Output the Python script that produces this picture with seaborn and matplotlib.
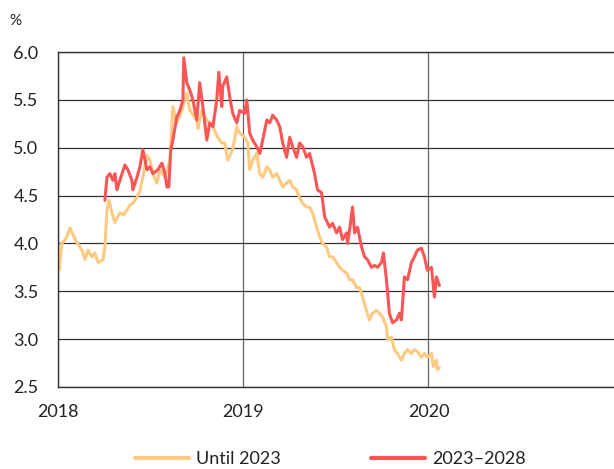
import pandas as pd
import matplotlib.pyplot as plt
import seaborn as sns

# decimal years and yields (%)
until_2023_x = [2018.000, 2018.005, 2018.020, 2018.043, 2018.065, 2018.081, 2018.102, 2018.129,
                2018.146, 2018.162, 2018.183, 2018.199, 2018.216, 2018.243, 2018.253, 2018.264,
                2018.275, 2018.291, 2018.307, 2018.323, 2018.334, 2018.356, 2018.372, 2018.388,
                2018.404, 2018.426, 2018.442, 2018.458, 2018.480, 2018.496, 2018.512, 2018.534,
                2018.550, 2018.577, 2018.604, 2018.620, 2018.641, 2018.668, 2018.695, 2018.712,
                2018.749, 2018.755, 2018.776, 2018.803, 2018.836, 2018.862, 2018.884, 2018.900,
                2018.916, 2018.943, 2018.965, 2018.981, 2019.008, 2019.024, 2019.035, 2019.051,
                2019.073, 2019.089, 2019.105, 2019.127, 2019.143, 2019.159, 2019.180, 2019.197,
                2019.213, 2019.234, 2019.251, 2019.267, 2019.288, 2019.304, 2019.321, 2019.342,
                2019.358, 2019.374, 2019.396, 2019.412, 2019.428, 2019.450, 2019.466, 2019.482,
                2019.504, 2019.520, 2019.536, 2019.558, 2019.574, 2019.590, 2019.612, 2019.628,
                2019.644, 2019.665, 2019.682, 2019.698, 2019.719, 2019.736, 2019.752, 2019.773,
                2019.779, 2019.800, 2019.816, 2019.833, 2019.854, 2019.870, 2019.887, 2019.908,
                2019.924, 2019.940, 2019.962, 2019.978, 2019.994, 2020.016, 2020.027, 2020.043,
                2020.048, 2020.059]
until_2023_y = [3.93, 3.72, 4.00, 4.05, 4.16, 4.09, 4.01, 3.93,
                3.83, 3.93, 3.86, 3.90, 3.80, 3.83, 3.96, 4.35,
                4.45, 4.32, 4.22, 4.28, 4.32, 4.30, 4.35, 4.40,
                4.42, 4.48, 4.55, 4.69, 4.92, 4.87, 4.73, 4.63,
                4.77, 4.69, 4.87, 5.43, 5.26, 5.39, 5.57, 5.39,
                5.29, 5.20, 5.39, 5.29, 5.22, 5.11, 5.05, 5.05,
                4.87, 4.98, 5.22, 5.15, 5.11, 5.05, 4.77, 4.87,
                4.94, 4.73, 4.69, 4.80, 4.77, 4.69, 4.73, 4.66,
                4.59, 4.63, 4.66, 4.59, 4.56, 4.48, 4.42, 4.38,
                4.38, 4.32, 4.17, 4.07, 4.00, 3.96, 3.86, 3.86,
                3.80, 3.75, 3.72, 3.69, 3.62, 3.62, 3.54, 3.54,
                3.44, 3.30, 3.20, 3.27, 3.30, 3.27, 3.23, 3.13,
                2.99, 3.02, 2.89, 2.85, 2.78, 2.85, 2.89, 2.85,
                2.89, 2.87, 2.81, 2.85, 2.81, 2.85, 2.71, 2.78,
                2.68, 2.70]

y2023_2028_x = [2018.253, 2018.264, 2018.280, 2018.296, 2018.307, 2018.318, 2018.334, 2018.361,
                2018.377, 2018.399, 2018.404, 2018.426, 2018.442, 2018.458, 2018.480, 2018.496,
                2018.512, 2018.539, 2018.561, 2018.577, 2018.588, 2018.598, 2018.609, 2018.620,
                2018.641, 2018.658, 2018.674, 2018.679, 2018.695, 2018.712, 2018.728, 2018.749,
                2018.765, 2018.782, 2018.803, 2018.819, 2018.836, 2018.857, 2018.868, 2018.884,
                2018.889, 2018.911, 2018.927, 2018.943, 2018.965, 2018.981, 2019.008, 2019.019,
                2019.035, 2019.051, 2019.073, 2019.089, 2019.105, 2019.127, 2019.143, 2019.159,
                2019.180, 2019.197, 2019.213, 2019.234, 2019.251, 2019.267, 2019.288, 2019.304,
                2019.321, 2019.342, 2019.358, 2019.385, 2019.401, 2019.423, 2019.439, 2019.466,
                2019.482, 2019.504, 2019.520, 2019.536, 2019.558, 2019.563, 2019.574, 2019.590,
                2019.601, 2019.617, 2019.639, 2019.655, 2019.671, 2019.692, 2019.709, 2019.725,
                2019.746, 2019.757, 2019.773, 2019.789, 2019.806, 2019.827, 2019.843, 2019.854,
                2019.870, 2019.887, 2019.908, 2019.924, 2019.940, 2019.962, 2019.978, 2019.994,
                2020.016, 2020.032, 2020.043, 2020.059]
y2023_2028_y = [4.45, 4.69, 4.73, 4.66, 4.73, 4.56, 4.66, 4.82,
                4.77, 4.66, 4.56, 4.69, 4.80, 4.98, 4.77, 4.80,
                4.73, 4.77, 4.84, 4.73, 4.59, 4.59, 4.98, 5.08,
                5.32, 5.39, 5.50, 5.94, 5.68, 5.60, 5.50, 5.29,
                5.68, 5.43, 5.08, 5.26, 5.22, 5.50, 5.79, 5.43,
                5.64, 5.74, 5.53, 5.36, 5.26, 5.39, 5.36, 5.50,
                5.15, 5.08, 5.01, 4.94, 5.08, 5.29, 5.26, 5.34,
                5.29, 5.22, 5.05, 4.90, 5.11, 5.01, 4.90, 5.05,
                5.01, 4.90, 4.94, 4.73, 4.56, 4.53, 4.28, 4.17,
                4.21, 4.11, 4.17, 4.04, 4.11, 4.00, 4.14, 4.38,
                4.11, 4.17, 3.96, 3.86, 3.83, 3.75, 3.77, 3.75,
                3.80, 3.90, 3.62, 3.27, 3.17, 3.20, 3.27, 3.20,
                3.65, 3.62, 3.80, 3.86, 3.93, 3.95, 3.86, 3.72,
                3.75, 3.44, 3.65, 3.56]

yellow = "#fec980"
red = "#fa5656"

sns.set_style("white")
plt.rcParams["font.family"] = ["Lato", "DejaVu Sans"]

fig = plt.figure(figsize=(6.14, 4.69), dpi=100)
ax = fig.add_axes([0.0945, 0.175, 0.905, 0.714])

sns.lineplot(x=until_2023_x, y=until_2023_y, color=yellow, linewidth=2.2, label="Until 2023", ax=ax)
sns.lineplot(x=y2023_2028_x, y=y2023_2028_y, color=red, linewidth=2.2, label="2023\u20132028", ax=ax)

ax.set_xlim(2018, 2021)
ax.set_ylim(2.5, 6.0)
ax.set_xticks([2018, 2019, 2020])
ax.set_xticklabels(["2018", "2019", "2020"])
ax.set_yticks([2.5, 3.0, 3.5, 4.0, 4.5, 5.0, 5.5, 6.0])
ax.set_yticklabels(["2.5", "3.0", "3.5", "4.0", "4.5", "5.0", "5.5", "6.0"])
ax.tick_params(length=0, labelsize=13, colors="#222222")
ax.tick_params(axis="y", pad=14)
ax.tick_params(axis="x", pad=12)

ax.grid(axis="y", color="#333333", linewidth=0.9)
ax.grid(axis="x", color="#666666", linewidth=0.9)
ax.set_axisbelow(True)
for side in ["left", "bottom", "top"]:
    ax.spines[side].set_color("#333333")
    ax.spines[side].set_linewidth(1.0)
ax.spines["right"].set_visible(False)
ax.set_xlabel("")
ax.set_ylabel("")

fig.text(0.015, 0.955, "%", fontsize=11, color="#222222", va="center")

ax.legend(loc="center", bbox_to_anchor=(0.49, -0.215), ncol=2, frameon=False,
          fontsize=13, handlelength=3.0, columnspacing=5.0, handletextpad=0.4,
          labelcolor="#222222", borderpad=0)
for line in ax.get_legend().get_lines():
    line.set_linewidth(3)

fig.savefig("out.png", dpi=100)
